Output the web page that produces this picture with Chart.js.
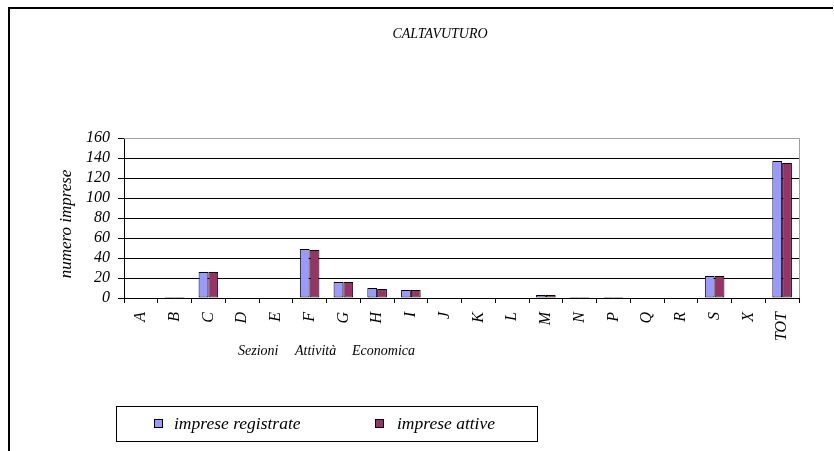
<!DOCTYPE html>
<html>
<head>
<meta charset="utf-8">
<script src="https://cdn.jsdelivr.net/npm/chart.js@4/dist/chart.umd.min.js"></script>
<style>
  html, body { margin: 0; padding: 0; background: #fff; }
  #wrap { width: 834px; height: 451px; }
</style>
</head>
<body>
<div id="wrap"><canvas id="cvChart"></canvas></div>
<script>
const categories = ['A', 'B', 'C', 'D', 'E', 'F', 'G', 'H', 'I', 'J', 'K', 'L', 'M', 'N', 'P', 'Q', 'R', 'S', 'X', 'TOT'];
const registrate = [0, 1, 26, 0, 0, 49, 16, 10, 8, 0, 0, 0, 3, 1, 1, 0, 0, 22, 0, 137];
const attive     = [0, 1, 26, 0, 0, 48, 16, 9, 8, 0, 0, 0, 3, 1, 1, 0, 0, 22, 0, 135];
const yTicks = [0, 20, 40, 60, 80, 100, 120, 140, 160];

const chartTitle = 'CALTAVUTURO';
const xTitleWords = ['Sezioni', 'Attività', 'Economica'];
const yTitle = 'numero imprese';

const serif = "'Liberation Serif', 'Times New Roman', serif";

// frame, titles, plot border and legend box
const decor = {
    id: 'decor',
    beforeDraw(chart) {
        const c = chart.ctx;
        c.save();
        c.fillStyle = '#fff';
        c.fillRect(0, 0, chart.width, chart.height);
        c.strokeStyle = '#000';
        c.lineWidth = 2;
        c.beginPath();
        c.moveTo(9, 451);
        c.lineTo(9, 8);
        c.lineTo(833, 8);
        c.stroke();
        c.restore();
    },
    afterDraw(chart) {
        const c = chart.ctx;
        const a = chart.chartArea;
        c.save();
        // top / right border of plot area
        c.strokeStyle = '#a0a0a0';
        c.lineWidth = 1;
        c.beginPath();
        c.moveTo(a.left, Math.round(a.top) + 0.5);
        c.lineTo(Math.round(a.right) + 0.5, Math.round(a.top) + 0.5);
        c.lineTo(Math.round(a.right) + 0.5, a.bottom);
        c.stroke();

        c.fillStyle = '#000';
        c.font = 'italic 14px ' + serif;
        c.textAlign = 'center';
        c.textBaseline = 'alphabetic';
        c.fillText(chartTitle, 440, 38);

        // y axis title
        c.save();
        c.translate(71, 224);
        c.rotate(-Math.PI / 2);
        c.font = 'italic 17px ' + serif;
        c.fillText(yTitle, 0, 0);
        c.restore();

        // x axis title, words spread like the original
        c.font = 'italic 14px ' + serif;
        c.textAlign = 'left';
        const wx = [238, 295, 352];
        xTitleWords.forEach((w, i) => c.fillText(w, wx[i], 355));

        // legend
        c.strokeStyle = '#000';
        c.lineWidth = 1;
        c.strokeRect(116.5, 406.5, 421, 35);
        const items = [
            { x: 154, tx: 174 },
            { x: 375, tx: 397 }
        ];
        c.font = 'italic 17.5px ' + serif;
        chart.data.datasets.forEach((ds, i) => {
            const it = items[i];
            c.fillStyle = ds.backgroundColor;
            c.fillRect(it.x, 419, 9, 9);
            c.strokeRect(it.x + 0.5, 419.5, 8, 8);
            c.fillStyle = '#000';
            c.fillText(ds.label, it.tx, 429);
        });
        c.restore();
    }
};

new Chart(document.getElementById('cvChart'), {
    type: 'bar',
    data: {
        labels: categories,
        datasets: [
            {
                label: 'imprese registrate',
                data: registrate,
                backgroundColor: '#9999ff',
                borderColor: '#000',
                borderWidth: 1,
                borderSkipped: false,
                barPercentage: 1.0,
                categoryPercentage: 0.58
            },
            {
                label: 'imprese attive',
                data: attive,
                backgroundColor: '#993366',
                borderColor: '#000',
                borderWidth: 1,
                borderSkipped: false,
                barPercentage: 1.0,
                categoryPercentage: 0.58
            }
        ]
    },
    options: {
        responsive: true,
        maintainAspectRatio: false,
        animation: false,
        events: [],
        layout: {
            padding: { top: 138, right: 35, left: 0, bottom: 93 }
        },
        plugins: {
            legend: { display: false },
            title: { display: false },
            tooltip: { enabled: false }
        },
        scales: {
            x: {
                afterFit(scale) { scale.height = 60; },
                grid: {
                    drawOnChartArea: false,
                    color: '#000',
                    tickLength: 5
                },
                border: { color: '#000', width: 1 },
                ticks: {
                    color: '#000',
                    font: { family: serif, style: 'italic', size: 16 },
                    maxRotation: 90,
                    minRotation: 90,
                    autoSkip: false,
                    padding: 9
                }
            },
            y: {
                min: 0,
                max: 160,
                afterFit(scale) { scale.width = 124; },
                afterBuildTicks(scale) {
                    scale.ticks = yTicks.map(v => ({ value: v }));
                },
                grid: {
                    color: ctx => (ctx.tick && ctx.tick.value === 160) ? '#a0a0a0' : '#000',
                    tickColor: '#000',
                    tickLength: 6
                },
                border: { color: '#000', width: 1 },
                ticks: {
                    color: '#000',
                    autoSkip: false,
                    font: { family: serif, style: 'italic', size: 16 },
                    padding: 8
                }
            }
        }
    },
    plugins: [decor]
});
</script>
</body>
</html>
